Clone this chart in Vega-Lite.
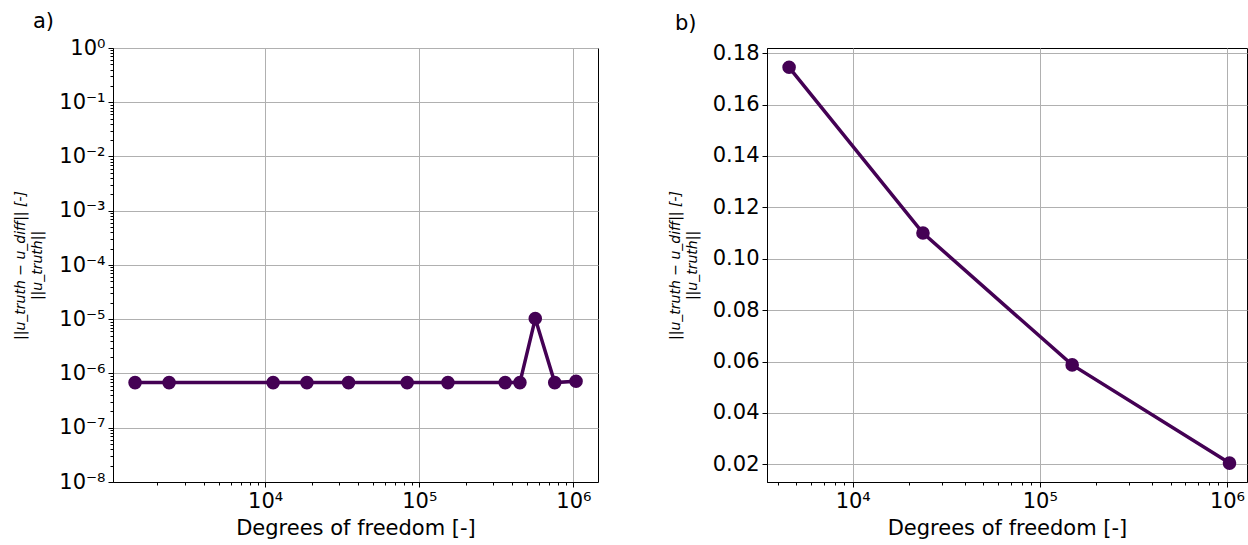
{
  "$schema": "https://vega.github.io/schema/vega-lite/v6.json",
  "autosize": {"type": "pad"},
  "padding": {"left": 12, "top": 10, "right": 0, "bottom": 5},
  "background": "white",
  "bounds": "flush",
  "spacing": 169,
  "config": {
    "font": "DejaVu Sans",
    "view": {"stroke": "#000000", "strokeWidth": 1},
    "axis": {
      "labelFont": "DejaVu Sans",
      "labelFontSize": 21,
      "labelColor": "#000000",
      "titleFont": "DejaVu Sans",
      "titleFontSize": 21,
      "titleFontWeight": "normal",
      "titleColor": "#000000",
      "domainColor": "#000000",
      "domainWidth": 1,
      "tickColor": "#000000",
      "tickWidth": 1,
      "gridColor": "#b0b0b0",
      "gridWidth": 1,
      "labelOverlap": false,
      "labelFlush": false,
      "labelBound": false
    },
    "title": {"font": "DejaVu Sans", "fontSize": 21, "fontWeight": "normal", "color": "#000000"}
  },
  "datasets": {
    "a": [
      {"dof": 1432, "err": 6.8e-7},
      {"dof": 2381, "err": 6.8e-7},
      {"dof": 11270, "err": 6.8e-7},
      {"dof": 18670, "err": 6.8e-7},
      {"dof": 34770, "err": 6.8e-7},
      {"dof": 83500, "err": 6.8e-7},
      {"dof": 153500, "err": 6.8e-7},
      {"dof": 361000, "err": 6.8e-7},
      {"dof": 450000, "err": 6.8e-7},
      {"dof": 566000, "err": 1.03e-5},
      {"dof": 757000, "err": 6.8e-7},
      {"dof": 1041000, "err": 7.2e-7}
    ],
    "b": [
      {"dof": 4571, "err": 0.1745},
      {"dof": 23740, "err": 0.1100},
      {"dof": 148900, "err": 0.0587},
      {"dof": 1032000, "err": 0.0205}
    ]
  },
  "hconcat": [
    {
      "width": 485,
      "height": 434,
      "title": {"text": "a)", "anchor": "start", "frame": "group", "dx": -80, "offset": 5},
      "data": {"name": "a"},
      "mark": {"type": "line", "color": "#440154", "strokeWidth": 3.5, "point": {"filled": true, "size": 185, "opacity": 1, "color": "#440154"}},
      "encoding": {
        "x": {
          "field": "dof", "type": "quantitative",
          "scale": {"type": "log", "domain": [1030, 1445000], "nice": false, "zero": false},
          "axis": {
            "title": "Degrees of freedom [-]",
            "values": [2000, 3000, 4000, 5000, 6000, 7000, 8000, 9000, 10000, 20000, 30000, 40000, 50000, 60000, 70000, 80000, 90000, 100000, 200000, 300000, 400000, 500000, 600000, 700000, 800000, 900000, 1000000],
            "labelExpr": "abs(log(datum.value)/LN10 - round(log(datum.value)/LN10)) < 1e-6 ? '10' + (round(log(datum.value)/LN10) < 0 ? '⁻' : '') + ['⁰','¹','²','³','⁴','⁵','⁶','⁷','⁸','⁹'][abs(round(log(datum.value)/LN10))] : ''",
            "tickSize": {"condition": {"test": "abs(log(datum.value)/LN10 - round(log(datum.value)/LN10)) < 1e-6", "value": 5}, "value": 3},
            "gridOpacity": {"condition": {"test": "abs(log(datum.value)/LN10 - round(log(datum.value)/LN10)) < 1e-6", "value": 1}, "value": 0},
            "labelPadding": 3,
            "titlePadding": 6
          }
        },
        "y": {
          "field": "err", "type": "quantitative",
          "scale": {"type": "log", "domain": [1e-8, 1], "nice": false, "zero": false},
          "axis": {
            "title": ["||u_truth − u_diff||  [-]", "||u_truth||"],
            "titleFontSize": 14,
            "titleFontStyle": "italic",
            "titleLineHeight": 17,
            "titleX": -93,
            "titleY": 217,
            "titleAngle": -90,
            "titleAlign": "center",
            "titleBaseline": "middle",
            "values": [1e-8, 2e-8, 3e-8, 4e-8, 5e-8, 6e-8, 7e-8, 8e-8, 9e-8, 1e-7, 2e-7, 3e-7, 4e-7, 5e-7, 6e-7, 7e-7, 8e-7, 9e-7, 1e-6, 2e-6, 3e-6, 4e-6, 5e-6, 6e-6, 7e-6, 8e-6, 9e-6, 1e-5, 2e-5, 3e-5, 4e-5, 5e-5, 6e-5, 7e-5, 8e-5, 9e-5, 1e-4, 2e-4, 3e-4, 4e-4, 5e-4, 6e-4, 7e-4, 8e-4, 9e-4, 0.001, 0.002, 0.003, 0.004, 0.005, 0.006, 0.007, 0.008, 0.009, 0.01, 0.02, 0.03, 0.04, 0.05, 0.06, 0.07, 0.08, 0.09, 0.1, 0.2, 0.3, 0.4, 0.5, 0.6, 0.7, 0.8, 0.9, 1],
            "labelExpr": "abs(log(datum.value)/LN10 - round(log(datum.value)/LN10)) < 1e-6 ? '10' + (round(log(datum.value)/LN10) < 0 ? '⁻' : '') + ['⁰','¹','²','³','⁴','⁵','⁶','⁷','⁸','⁹'][abs(round(log(datum.value)/LN10))] : ''",
            "tickSize": {"condition": {"test": "abs(log(datum.value)/LN10 - round(log(datum.value)/LN10)) < 1e-6", "value": 5}, "value": 3},
            "gridOpacity": {"condition": {"test": "abs(log(datum.value)/LN10 - round(log(datum.value)/LN10)) < 1e-6", "value": 1}, "value": 0},
            "labelPadding": 3
          }
        }
      }
    },
    {
      "width": 480,
      "height": 434,
      "title": {"text": "b)", "anchor": "start", "frame": "group", "dx": -92, "offset": 8},
      "data": {"name": "b"},
      "mark": {"type": "line", "color": "#440154", "strokeWidth": 3.5, "point": {"filled": true, "size": 185, "opacity": 1, "color": "#440154"}},
      "encoding": {
        "x": {
          "field": "dof", "type": "quantitative",
          "scale": {"type": "log", "domain": [3483, 1280000], "nice": false, "zero": false},
          "axis": {
            "title": "Degrees of freedom [-]",
            "values": [4000, 5000, 6000, 7000, 8000, 9000, 10000, 20000, 30000, 40000, 50000, 60000, 70000, 80000, 90000, 100000, 200000, 300000, 400000, 500000, 600000, 700000, 800000, 900000, 1000000],
            "labelExpr": "abs(log(datum.value)/LN10 - round(log(datum.value)/LN10)) < 1e-6 ? '10' + (round(log(datum.value)/LN10) < 0 ? '⁻' : '') + ['⁰','¹','²','³','⁴','⁵','⁶','⁷','⁸','⁹'][abs(round(log(datum.value)/LN10))] : ''",
            "tickSize": {"condition": {"test": "abs(log(datum.value)/LN10 - round(log(datum.value)/LN10)) < 1e-6", "value": 5}, "value": 3},
            "gridOpacity": {"condition": {"test": "abs(log(datum.value)/LN10 - round(log(datum.value)/LN10)) < 1e-6", "value": 1}, "value": 0},
            "labelPadding": 3,
            "titlePadding": 6
          }
        },
        "y": {
          "field": "err", "type": "quantitative",
          "scale": {"domain": [0.01315, 0.182], "nice": false, "zero": false},
          "axis": {
            "title": ["||u_truth − u_diff||  [-]", "||u_truth||"],
            "titleFontSize": 14,
            "titleFontStyle": "italic",
            "titleLineHeight": 17,
            "titleX": -92,
            "titleY": 217,
            "titleAngle": -90,
            "titleAlign": "center",
            "titleBaseline": "middle",
            "values": [0.02, 0.04, 0.06, 0.08, 0.10, 0.12, 0.14, 0.16, 0.18],
            "format": ".2f",
            "tickSize": 5,
            "labelPadding": 3
          }
        }
      }
    }
  ]
}
